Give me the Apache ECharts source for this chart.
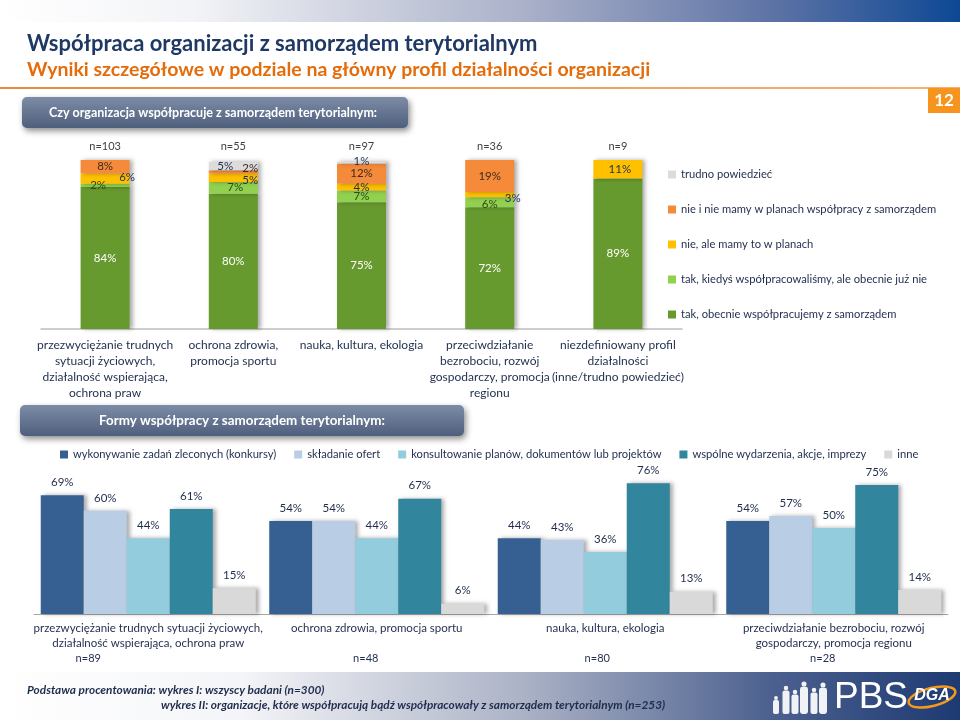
<!DOCTYPE html>
<html><head><meta charset="utf-8">
<script src="https://cdn.jsdelivr.net/npm/echarts@6/dist/echarts.min.js"></script>
<style>html,body{margin:0;padding:0;background:#fff}#c{width:960px;height:720px}</style>
</head><body><div id="c"></div>
<script>
// ---------- DATA: chart I ----------
const topCategories = [
  'przezwyciężanie trudnych\nsytuacji życiowych,\ndziałalność wspierająca,\nochrona praw',
  'ochrona zdrowia,\npromocja sportu',
  'nauka, kultura, ekologia',
  'przeciwdziałanie\nbezrobociu, rozwój\ngospodarczy, promocja\nregionu',
  'niezdefiniowany profil\ndziałalności\n(inne/trudno powiedzieć)'
];
const topN = ['n=103', 'n=55', 'n=97', 'n=36', 'n=9'];
const topSeriesNames = [
  'tak, obecnie współpracujemy z samorządem',
  'tak, kiedyś współpracowaliśmy, ale obecnie już nie',
  'nie, ale mamy to w planach',
  'nie i nie mamy w planach współpracy z samorządem',
  'trudno powiedzieć'
];
const takObecnie = [84, 80, 75, 72, 89];
const takKiedys  = [2, 7, 7, 6, 0];
const nieAlePlany = [6, 5, 4, 3, 11];
const nieINie    = [8, 2, 12, 19, 0];
const trudno     = [0, 5, 1, 0, 0];

// ---------- DATA: chart II ----------
const bottomCategories = [
  'przezwyciężanie trudnych sytuacji życiowych,\ndziałalność wspierająca, ochrona praw',
  'ochrona zdrowia, promocja sportu',
  'nauka, kultura, ekologia',
  'przeciwdziałanie bezrobociu, rozwój\ngospodarczy, promocja regionu'
];
const bottomN = ['n=89', 'n=48', 'n=80', 'n=28'];
const bottomSeriesNames = [
  'wykonywanie zadań zleconych (konkursy)',
  'składanie ofert',
  'konsultowanie planów, dokumentów lub projektów',
  'wspólne wydarzenia, akcje, imprezy',
  'inne'
];
const zadaniaZlecone = [69, 54, 44, 54];
const skladanieOfert = [60, 54, 43, 57];
const konsultowanie  = [44, 44, 36, 50];
const wspolneWydarz  = [61, 67, 76, 75];
const inne           = [15, 6, 13, 14];

// ---------- STYLE ----------
const FONT = 'Lato';
const TXT = '#1f2d4d';
const topColors = ['#679a2e', '#92d050', '#ffc000', '#f58a3a', '#dcdcdc'];
const topLabelColors = ['#ffffff', '#2c4a16', '#1f3050', '#3d2c20', '#1f3050'];
// label shifts [dx, dy] per series, per category (styling only)
const topLabelShift = [
  [[0,0],[0,0],[0,0],[0,0],[0,0]],
  [[-7,0],[2,-1],[0,0],[0,2],[0,0]],
  [[22,-1],[17,3],[0,0],[23,4],[2,0]],
  [[0,0],[17,-4],[0,0],[0,0],[0,0]],
  [[0,0],[-8,0],[0,-1],[0,0],[0,0]]
];
const bottomColors = ['#376092', '#b9cde5', '#93cddd', '#31859c', '#d9d9d9'];
const nShift = [-60, -11, -8, -11];

const topValues = [takObecnie, takKiedys, nieAlePlany, nieINie, trudno];
const bottomValues = [zadaniaZlecone, skladanieOfert, konsultowanie, wspolneWydarz, inne];

const shadow = {shadowBlur: 4, shadowColor: 'rgba(0,0,0,0.32)', shadowOffsetX: 3, shadowOffsetY: 0};

const topSeries = topValues.map((vals, si) => ({
  name: topSeriesNames[si],
  type: 'bar', stack: 'top', xAxisIndex: 0, yAxisIndex: 0,
  barWidth: 49,
  itemStyle: Object.assign({color: topColors[si]}, shadow),
  data: vals.map((v, ci) => ({
    value: v,
    label: {offset: topLabelShift[si][ci]}
  })),
  label: {
    show: true, position: 'inside', fontFamily: FONT, fontSize: 11.5,
    color: topLabelColors[si],
    formatter: p => p.value > 0 ? p.value + '%' : ''
  }
}));

const bottomSeries = bottomValues.map((vals, si) => ({
  name: bottomSeriesNames[si],
  type: 'bar', xAxisIndex: 2, yAxisIndex: 1,
  barWidth: 43, barGap: '0%',
  itemStyle: Object.assign({color: bottomColors[si]}, shadow),
  data: vals,
  label: {show: true, position: 'top', distance: 7, fontFamily: FONT, fontSize: 11.5, color: TXT,
    formatter: p => p.value + '%'}
}));

const nRich = {};
nShift.forEach((s, i) => { nRich['n' + i] = {fontFamily: FONT, fontSize: 11, color: TXT, lineHeight: 15, padding: s < 0 ? [0, -2 * s, 0, 0] : [0, 0, 0, 2 * s]}; });
nRich.c = {fontFamily: FONT, fontSize: 11.5, color: TXT, lineHeight: 15};

const chart = echarts.init(document.getElementById('c'), null, {renderer: 'canvas'});

function person(x, h, w) {
  return [
    {type: 'circle', shape: {cx: x, cy: 718 - h, r: w * 0.32}, style: {fill: 'rgba(255,255,255,0.92)'}},
    {type: 'rect', shape: {x: x - w / 2, y: 718 - h + w * 0.35, width: w, height: h - w * 0.35 - 4, r: w * 0.3}, style: {fill: 'rgba(255,255,255,0.92)'}}
  ];
}
const people = [].concat(
  person(776, 20, 6), person(786, 30, 7), person(795, 26, 7), person(804, 34, 8),
  person(814, 28, 7), person(823, 33, 8)
);

chart.setOption({
  animation: false,
  textStyle: {fontFamily: FONT},
  grid: [
    {left: 41, top: 160, width: 641, height: 169},
    {left: 34, top: 442, width: 914, height: 172}
  ],
  xAxis: [
    {type: 'category', gridIndex: 0, data: topCategories,
      axisLine: {lineStyle: {color: '#bfbfbf', width: 1.5}}, axisTick: {show: false},
      axisLabel: {interval: 0, fontFamily: FONT, fontSize: 12, color: TXT, lineHeight: 16, margin: 8}},
    {type: 'category', gridIndex: 0, position: 'top', data: topN,
      axisLine: {show: false}, axisTick: {show: false},
      axisLabel: {interval: 0, fontFamily: FONT, fontSize: 11, color: '#404040', margin: 8}},
    {type: 'category', gridIndex: 1, data: bottomCategories,
      axisLine: {lineStyle: {color: '#a6a6a6', width: 1}}, axisTick: {show: false},
      axisLabel: {interval: 0, margin: 7,
        formatter: (v, i) => {
          const lines = v.split('\n');
          while (lines.length < 2) lines.push(' ');
          return lines.map(l => '{c|' + l + '}').join('\n') + '\n{n' + i + '|' + bottomN[i] + '}';
        },
        rich: nRich}}
  ],
  yAxis: [
    {type: 'value', gridIndex: 0, min: 0, max: 100, show: false},
    {type: 'value', gridIndex: 1, min: 0, max: 100, show: false}
  ],
  legend: [
    {orient: 'vertical', left: 663, top: 163, itemWidth: 8, itemHeight: 8, itemGap: 22, itemTextGap: 4,
      icon: 'rect',
      data: topSeriesNames.slice().reverse(),
      textStyle: {fontFamily: FONT, fontSize: 11.2, color: TXT, lineHeight: 13}},
    {orient: 'horizontal', left: 55, top: 444, itemWidth: 8, itemHeight: 8, itemGap: 18, itemTextGap: 4,
      icon: 'rect',
      data: bottomSeriesNames,
      textStyle: {fontFamily: FONT, fontSize: 11.2, color: TXT}}
  ],
  series: topSeries.concat(bottomSeries),
  graphic: [
    // header gradient strip
    {type: 'rect', shape: {x: 0, y: 0, width: 960, height: 22}, z: -10,
      style: {fill: new echarts.graphic.LinearGradient(0, 0, 1, 0, [
        {offset: 0, color: '#ffffff'}, {offset: 0.2, color: '#f3f4f7'},
        {offset: 0.55, color: '#a9b0c8'}, {offset: 0.8, color: '#5f74a6'}, {offset: 1, color: '#0d4894'}])}},
    {type: 'text', left: 27, top: 33, style: {text: 'Współpraca organizacji z samorządem terytorialnym',
      fontFamily: FONT, fontSize: 22, fontWeight: 'bold', fill: '#1f3864'}},
    {type: 'text', left: 27, top: 60, style: {text: 'Wyniki szczegółowe w podziale na główny profil działalności organizacji',
      fontFamily: FONT, fontSize: 19.5, fontWeight: 'bold', fill: '#e46c0a'}},
    {type: 'rect', shape: {x: 0, y: 87, width: 960, height: 2}, z: -5,
      style: {fill: new echarts.graphic.LinearGradient(0, 0, 1, 0, [
        {offset: 0, color: '#e58a3c'}, {offset: 1, color: '#f2b27a'}])}},
    {type: 'rect', shape: {x: 928, y: 88, width: 32, height: 25}, style: {fill: '#f7941d'}},
    {type: 'text', x: 944, y: 100.5, style: {text: '12', fontFamily: FONT, fontSize: 17, fontWeight: 'bold',
      fill: '#ffffff', align: 'center', verticalAlign: 'middle'}},
    // box 1
    {type: 'rect', shape: {x: 22, y: 97, width: 386, height: 31, r: 5},
      style: {fill: new echarts.graphic.LinearGradient(0, 0, 0, 1, [
        {offset: 0, color: '#7d8ca6'}, {offset: 1, color: '#4e5f7d'}]),
        shadowBlur: 6, shadowOffsetX: 2, shadowOffsetY: 3, shadowColor: 'rgba(0,0,0,0.45)'}},
    {type: 'text', x: 213, y: 112.5, style: {text: 'Czy organizacja współpracuje z samorządem terytorialnym:',
      fontFamily: FONT, fontSize: 12.5, fontWeight: 'bold', fill: '#ffffff', align: 'center', verticalAlign: 'middle'}},
    // box 2
    {type: 'rect', shape: {x: 20, y: 405, width: 444, height: 31, r: 5},
      style: {fill: new echarts.graphic.LinearGradient(0, 0, 0, 1, [
        {offset: 0, color: '#7d8ca6'}, {offset: 1, color: '#4e5f7d'}]),
        shadowBlur: 6, shadowOffsetX: 2, shadowOffsetY: 3, shadowColor: 'rgba(0,0,0,0.45)'}},
    {type: 'text', x: 242, y: 420.5, style: {text: 'Formy współpracy z samorządem terytorialnym:',
      fontFamily: FONT, fontSize: 13.4, fontWeight: 'bold', fill: '#ffffff', align: 'center', verticalAlign: 'middle'}},
    // footer band
    {type: 'rect', shape: {x: 0, y: 672, width: 960, height: 48}, z: -10,
      style: {fill: new echarts.graphic.LinearGradient(0, 0, 1, 0, [
        {offset: 0, color: '#ffffff'}, {offset: 0.25, color: '#f4f5f8'},
        {offset: 0.55, color: '#aab1c5'}, {offset: 0.8, color: '#4d6190'}, {offset: 1, color: '#1d3a72'}])}},
    {type: 'text', left: 27, top: 684, style: {text: 'Podstawa procentowania: wykres I: wszyscy badani (n=300)',
      fontFamily: FONT, fontSize: 11.8, fontWeight: 'bold', fontStyle: 'italic', fill: '#1f2d4d'}},
    {type: 'text', left: 161, top: 699, style: {text: 'wykres II: organizacje, które współpracują bądź współpracowały z samorządem terytorialnym (n=253)',
      fontFamily: FONT, fontSize: 11.8, fontWeight: 'bold', fontStyle: 'italic', fill: '#1f2d4d'}},
    {type: 'group', children: people},
    {type: 'text', left: 834, top: 679, style: {text: 'PBS', fontFamily: 'Liberation Sans', fontSize: 37,
      fill: '#ffffff'}},
    {type: 'ellipse', shape: {cx: 932, cy: 697, rx: 24, ry: 9}, rotation: 0.25, originX: 932, originY: 697,
      style: {fill: 'none', stroke: '#f39a1e', lineWidth: 2.5}},
    {type: 'text', x: 932, y: 696, style: {text: 'DGA', fontFamily: 'Liberation Sans', fontSize: 16, fontWeight: 'bold',
      fontStyle: 'italic', fill: '#ffffff', align: 'center', verticalAlign: 'middle'}}
  ]
});
</script></body></html>
